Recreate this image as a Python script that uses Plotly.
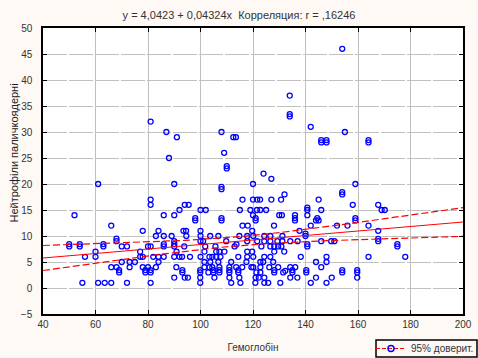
import numpy as np
import plotly.graph_objects as go

# Гемоглобін (x) and Нейтрофіли паличкоядерні (y)
hgb = [
    154, 134, 134, 134, 81, 142, 87, 108, 155, 91, 112.5, 113.5, 146, 146, 148, 148, 164, 164,
    109, 88, 110, 110, 124, 127, 61, 90, 120, 159, 108, 108, 132, 154, 154,
    81, 116, 120, 121.6, 122.7, 127, 130.7, 145, 81, 94, 95.5, 158, 167.7,
    92, 100, 102, 115, 119, 121.5, 122.8, 125, 140.7, 140.7, 146, 169, 170.2,
    52, 86, 90, 120, 130, 131, 136, 140.7,
    98, 98, 108, 108, 121, 121, 136, 136, 144, 145, 144.5, 159, 159,
    66, 116, 118, 128, 142, 152, 156, 164,
    78, 84, 93.5, 94.5, 100, 119.7, 137.7, 167.7,
    83, 86, 89, 94.6, 100, 103.7, 106.8, 114.8, 117.8, 120.1, 124.3, 126.6, 131.2, 140, 140,
    68, 68, 90, 100, 101, 109.8, 117.8, 121.6, 124.3, 126.6, 129.3, 131.2, 134.2, 137, 146, 149.8, 151, 167.7, 167.7,
    50, 50, 54, 54, 63, 63, 70, 72, 80, 81, 86, 86, 90, 90, 93.8, 101.8, 105.7, 113, 113.7,
    123.2, 126.6, 128.1, 129.6, 130.8, 140.7, 140.7, 175, 175,
    60, 77, 90.9, 101.5, 106, 107.2, 109.1, 117.8, 119.7, 128.1, 131.9,
    56, 60, 77, 78, 82, 84, 86, 90, 92, 93, 96, 100, 103.4, 104.5, 106, 107.6, 114.4, 117.8,
    120.1, 124.3, 126.6, 138.2, 148, 164, 178,
    70, 73, 75, 84, 101.5, 103.7, 106.8, 111.7, 117.5, 122.8, 123.9, 127.7, 144, 148,
    66, 68, 73, 78, 80, 83, 90.8, 101.5, 103.4, 104.5, 107.2, 111, 113.6, 115.9, 119.4, 120.1,
    122.8, 126.2, 129.6, 134.2, 136.1, 146,
    69, 69, 79, 79, 81, 81, 93.1, 93.1, 99.9, 99.9, 103, 104.9, 104.9, 107.2, 107.2, 111, 111,
    114.4, 114.4, 121.3, 122.8, 128.1, 128.1, 131.5, 132.3, 135, 135, 140.3, 140.3, 154, 154, 159.7, 159.7,
    90, 94, 95.2, 99.9, 105.3, 111, 114.8, 121, 122.2, 124.3, 134.2, 136.9, 144, 150, 159.7,
    55, 61, 63.5, 66, 72, 81, 99.9, 111.7, 115.2, 120.9, 124.3, 125.8, 130.4, 142, 148,
]
neut = [
    46, 37, 33, 33.45, 32, 31, 30, 30, 30, 29, 29, 29, 28, 28.45, 28, 28.45, 28, 28.45,
    26, 25, 23, 23.45, 22, 21, 20, 20, 20, 20, 19, 19.45, 18, 18, 18.45,
    17, 17, 17, 17, 17, 17, 17, 17, 16, 16, 16, 16, 16,
    15, 15, 15, 15, 15, 15, 15, 15, 15, 15.45, 15, 15, 15,
    14, 14, 14, 14, 14, 14, 14, 14,
    13, 13.45, 13, 13.45, 13, 13.45, 13, 13.45, 13, 13, 13.45, 13, 13.45,
    12, 12, 12, 12, 12, 12, 12, 12,
    11, 11, 11, 11, 11, 11, 11, 11,
    10, 10, 10, 10, 10, 10, 10, 10, 10, 10, 10, 10, 10, 10, 10.45,
    9, 9.5, 9, 9, 9, 9, 9, 9, 9, 9, 9, 9, 9, 9, 9, 9, 9, 9, 9.45,
    8, 8.45, 8, 8.45, 8, 8.45, 8, 8, 8, 8, 8, 8.45, 8, 8.45, 8, 8, 8, 8, 8.4,
    8, 8, 8, 8, 8, 8, 8.45, 8, 8.45,
    7, 7, 7, 7, 7, 7, 7, 7, 7, 7, 7,
    6, 6, 6, 6, 6, 6, 6, 6, 6, 6, 6, 6, 6, 6, 6, 6, 6, 6,
    6, 6, 6, 6, 6, 6, 6,
    5, 5, 5, 5, 5, 5, 5, 5, 5, 5, 5, 5, 5, 5,
    4, 4, 4, 4, 4, 4, 4, 4, 4, 4, 4, 4, 4, 4, 4, 4,
    4, 4, 4, 4, 4, 4,
    3, 3.45, 3, 3.45, 3, 3.45, 3, 3.45, 3, 3.45, 3, 3, 3.45, 3, 3.45, 3, 3.45,
    3, 3.45, 3, 3, 3, 3.45, 3, 3.3, 3, 3.45, 3, 3.45, 3, 3.45, 3, 3.45,
    2, 2, 2, 2, 2, 2, 2, 2, 2, 2, 2, 2, 2, 2, 2,
    1, 1, 1, 1, 1, 1, 1, 1, 1, 1, 1, 1, 1, 1, 1,
]

intercept = 4.0423
slope = 0.04324
r_value = ",16246"
t_crit = 1.968

title_text = f"y = 4,0423 + 0,04324x \u00a0Корреляция: r = {r_value}"
x_title = "Гемоглобін"
y_title = "Нейтрофіли паличкоядерні"
legend_name = "95% доверит."

x = np.array(hgb, dtype=float)
y = np.array(neut, dtype=float)
n = len(x)
xbar = x.mean()
sxx = ((x - xbar) ** 2).sum()
resid = y - (intercept + slope * x)
s = np.sqrt((resid ** 2).sum() / (n - 2))

xs = np.linspace(40, 200, 161)
fit = intercept + slope * xs
half = t_crit * s * np.sqrt(1.0 / n + (xs - xbar) ** 2 / sxx)

FONT = "Liberation Sans, Arial, sans-serif"
W, H = 478, 358
# plot area in pixels: left 43, right 463, top 28, bottom 314
PL, PR, PT, PB = 43, 463, 28, 314
def px_x(p):
    return (p - PL) / (PR - PL)
def px_y(p):
    return (PB - p) / (PB - PT)

fig = go.Figure()
fig.add_trace(go.Scatter(
    x=hgb, y=neut, mode="markers", showlegend=False,
    marker=dict(symbol="circle-open", size=5, color="#0000FF", line=dict(width=1.3, color="#0000FF")),
))
fig.add_trace(go.Scatter(x=xs, y=fit, mode="lines", showlegend=False,
                         line=dict(color="#FF0000", width=1.2)))
fig.add_trace(go.Scatter(x=xs, y=fit + half, mode="lines", showlegend=False,
                         line=dict(color="#FF0000", width=1.2, dash="7px,3px")))
fig.add_trace(go.Scatter(x=xs, y=fit - half, mode="lines", showlegend=False,
                         line=dict(color="#FF0000", width=1.2, dash="7px,3px")))
fig.add_trace(go.Scatter(
    x=[None], y=[None], mode="lines+markers", name=legend_name,
    line=dict(color="#FF0000", width=1.2, dash="4px,2px"),
    marker=dict(symbol="circle-open", size=6, color="#0000FF", line=dict(width=1.5, color="#0000FF")),
))

axis_common = dict(
    showline=True, linecolor="black", linewidth=1.5, mirror="ticks",
    ticks="inside", ticklen=4, tickcolor="black", tickwidth=1,
    showgrid=True, gridcolor="#C0C0C0", gridwidth=1, zeroline=False,
    automargin=False,
    tickfont=dict(family=FONT, size=10, color="#333333"),
)
fig.update_xaxes(range=[40, 200], tick0=40, dtick=20, ticklabelstandoff=0,
                 title=dict(text=x_title, font=dict(family=FONT, size=10, color="#333333"), standoff=15),
                 **axis_common)
fig.update_yaxes(range=[-5, 50], tick0=-5, dtick=5, ticklabelstandoff=7,
                 griddash="24px,2px", **axis_common)

fig.update_layout(
    width=W, height=H,
    margin=dict(l=PL, r=W - PR, t=PT, b=H - PB, autoexpand=False),
    paper_bgcolor="#FEF9F4", plot_bgcolor="white",
    title=dict(text=title_text, x=0.5, xref="container", y=1 - 15 / H, yanchor="middle",
               font=dict(family=FONT, size=11, color="#333333")),
    showlegend=True,
    legend=dict(xref="container", yref="container", x=371 / W, y=1 - 348.5 / H,
                xanchor="left", yanchor="middle",
                bgcolor="rgba(0,0,0,0)", borderwidth=0,
                font=dict(family=FONT, size=10, color="#333333"),
                itemwidth=30, tracegroupgap=0),
    shapes=[dict(type="rect", xref="paper", yref="paper",
                 x0=px_x(376), x1=px_x(477), y0=px_y(357), y1=px_y(340),
                 line=dict(color="black", width=1.5), fillcolor="rgba(0,0,0,0)", layer="above")],
    annotations=[dict(text=y_title, textangle=-90, xref="paper", yref="paper",
                      x=px_x(13), y=px_y(153.5), showarrow=False,
                      xanchor="center", yanchor="middle",
                      font=dict(family=FONT, size=11, color="#222222"))],
)

fig.write_html("out.html", config={"displayModeBar": False},
               post_script="document.body.style.margin='0';")
